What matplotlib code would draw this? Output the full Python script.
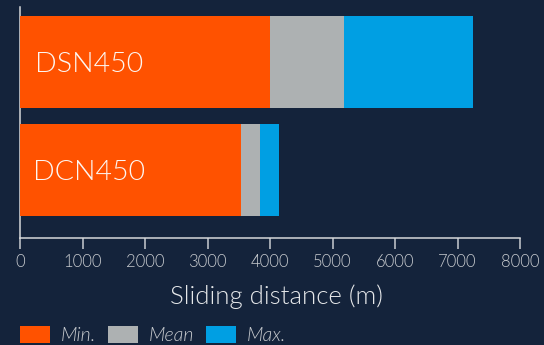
import matplotlib
matplotlib.use("Agg")
import matplotlib.pyplot as plt
from matplotlib.patches import Patch

categories = ["DCN450", "DSN450"]
min_vals = [3530, 4000]
mean_vals = [3840, 5180]
max_vals = [4150, 7250]
series_names = ["Min.", "Mean", "Max."]
xticks = [0, 1000, 2000, 3000, 4000, 5000, 6000, 7000, 8000]
xlabel = "Sliding distance (m)"

BG = "#14233b"
C_MIN = "#ff5200"
C_MEAN = "#adb1b2"
C_MAX = "#009fe3"
FONT = ["Lato", "DejaVu Sans"]
WT = 300

plt.rcParams["font.family"] = FONT

W, H = 544, 345
fig = plt.figure(figsize=(W / 100, H / 100), dpi=100)
fig.patch.set_facecolor(BG)
ax = fig.add_axes([20 / W, 1 - 237.7 / H, 500 / W, (237.7 - 7) / H])
ax.set_facecolor(BG)

ypos = list(range(len(categories)))
h = 0.85
ax.barh(ypos, max_vals, height=h, color=C_MAX, zorder=2)
ax.barh(ypos, mean_vals, height=h, color=C_MEAN, zorder=3)
ax.barh(ypos, min_vals, height=h, color=C_MIN, zorder=4)

for y, name in zip(ypos, categories):
    ax.text(1110, y, name, ha="center", va="center_baseline", color="#fdf6f2",
            fontsize=20.5, fontweight=WT, zorder=5)

ax.set_xlim(0, 8000)
ax.set_ylim(-0.627, 1.509)
ax.set_xticks(xticks)
ax.set_xticklabels([str(t) for t in xticks])
ax.set_yticks([])
for s in ["top", "right"]:
    ax.spines[s].set_visible(False)
for s in ["left", "bottom"]:
    ax.spines[s].set_color("#d6d8da")
    ax.spines[s].set_linewidth(1.1)
ax.tick_params(axis="x", colors="#c9ccd0", length=8, width=1.1, pad=4,
               labelsize=12, labelcolor="#c8cbcf")
for lbl in ax.get_xticklabels():
    lbl.set_fontweight(WT)
ax.set_xlabel(xlabel, fontsize=18.5, color="#e6e8ea", fontweight=WT)
ax.xaxis.set_label_coords(0.513, -0.257)
ax.xaxis.label.set_va("center")

handles = [Patch(facecolor=C_MIN), Patch(facecolor=C_MEAN), Patch(facecolor=C_MAX)]
leg = fig.legend(handles, series_names, loc="upper left",
                 bbox_to_anchor=(20 / W, 1 - 326 / H), ncol=3, frameon=False,
                 borderpad=0, borderaxespad=0, handlelength=1.55, handleheight=0.93,
                 handletextpad=0.57, columnspacing=0.58,
                 prop={"size": 14, "style": "italic", "weight": WT, "family": FONT})
for t in leg.get_texts():
    t.set_color("#c8cbcf")

fig.savefig("out.png", dpi=100, facecolor=BG)
